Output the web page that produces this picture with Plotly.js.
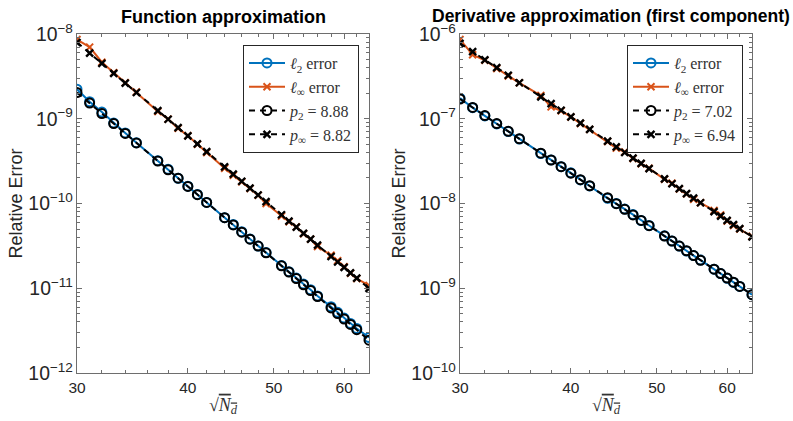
<!DOCTYPE html>
<html>
<head>
<meta charset="utf-8">
<script src="https://cdn.plot.ly/plotly-3.0.1.min.js"></script>
<style>html,body{margin:0;padding:0;background:#fff;}#chart{width:793px;height:421px;}</style>
</head>
<body>
<div id="chart"></div>
<script>
// sqrt(N_d) sample points
const sqrtNd = [30,31,32,33,34,35,37,38,39,40,41,42,44,45,46,47,48,49,51,52,53,54,55,56,58,59,60,61,62,64];

// Function approximation
const funcL2 = [2.23e-9,1.59e-9,1.20e-9,8.9e-10,6.8e-10,5.2e-10,3.2e-10,2.54e-10,1.98e-10,1.6e-10,1.28e-10,1.03e-10,6.8e-11,5.65e-11,4.65e-11,3.82e-11,3.15e-11,2.64e-11,1.86e-11,1.57e-11,1.32e-11,1.12e-11,9.6e-12,8.1e-12,6.05e-12,5.2e-12,4.45e-12,3.85e-12,3.35e-12,2.62e-12];
const funcLinf = [8.6e-9,7.0e-9,4.65e-9,3.5e-9,2.67e-9,2.07e-9,1.22e-9,9.9e-10,7.7e-10,6.3e-10,5.0e-10,3.98e-10,2.6e-10,2.15e-10,1.8e-10,1.5e-10,1.25e-10,1.0e-10,7.1e-11,6.1e-11,5.3e-11,4.4e-11,3.8e-11,3.1e-11,2.45e-11,2.12e-11,1.8e-11,1.5e-11,1.3e-11,1.08e-11];
const funcFitL2 = [2.04e-9,1.53e-9,1.15e-9,8.76e-10,6.72e-10,5.19e-10,3.17e-10,2.50e-10,1.99e-10,1.59e-10,1.27e-10,1.03e-10,6.81e-11,5.58e-11,4.59e-11,3.79e-11,3.15e-11,2.62e-11,1.84e-11,1.55e-11,1.30e-11,1.10e-11,9.38e-12,7.99e-12,5.85e-12,5.03e-12,4.33e-12,3.74e-12,3.24e-12,2.44e-12];
const funcFitLinf = [7.94e-9,5.95e-9,4.50e-9,3.43e-9,2.63e-9,2.04e-9,1.25e-9,9.87e-10,7.85e-10,6.28e-10,5.05e-10,4.09e-10,2.71e-10,2.22e-10,1.83e-10,1.52e-10,1.26e-10,1.05e-10,7.37e-11,6.21e-11,5.25e-11,4.45e-11,3.79e-11,3.23e-11,2.37e-11,2.04e-11,1.76e-11,1.52e-11,1.32e-11,9.95e-12];

// Derivative approximation (first component)
const derivL2 = [1.75e-7,1.35e-7,1.08e-7,8.7e-8,7.05e-8,5.75e-8,3.88e-8,3.27e-8,2.72e-8,2.3e-8,1.9e-8,1.61e-8,1.15e-8,1.0e-8,8.6e-9,7.4e-9,6.3e-9,5.5e-9,4.15e-9,3.6e-9,3.15e-9,2.75e-9,2.43e-9,2.15e-9,1.68e-9,1.49e-9,1.31e-9,1.17e-9,1.05e-9,8.4e-10];
const derivLinf = [8.6e-7,5.7e-7,4.9e-7,3.9e-7,3.2e-7,2.65e-7,1.88e-7,1.38e-7,1.24e-7,1.05e-7,8.8e-8,7.5e-8,5.4e-8,4.5e-8,4.05e-8,3.4e-8,2.95e-8,2.6e-8,1.93e-8,1.74e-8,1.48e-8,1.3e-8,1.12e-8,1.02e-8,8.3e-9,7.3e-9,6.2e-9,5.5e-9,5.0e-9,4.1e-9];
const derivFitL2 = [1.71e-7,1.36e-7,1.09e-7,8.78e-8,7.12e-8,5.81e-8,3.93e-8,3.26e-8,2.72e-8,2.28e-8,1.91e-8,1.62e-8,1.17e-8,9.95e-9,8.53e-9,7.33e-9,6.32e-9,5.47e-9,4.13e-9,3.61e-9,3.15e-9,2.77e-9,2.43e-9,2.14e-9,1.68e-9,1.49e-9,1.32e-9,1.18e-9,1.05e-9,8.39e-10];
const derivFitLinf = [7.76e-7,6.18e-7,4.96e-7,4.01e-7,3.26e-7,2.66e-7,1.81e-7,1.51e-7,1.26e-7,1.05e-7,8.88e-8,7.51e-8,5.44e-8,4.66e-8,4.00e-8,3.44e-8,2.97e-8,2.58e-8,1.95e-8,1.71e-8,1.50e-8,1.31e-8,1.16e-8,1.02e-8,8.0e-9,7.1e-9,6.32e-9,5.64e-9,5.04e-9,4.04e-9];

const titles = ["Function approximation", "Derivative approximation (first component)"];
const names = ["<i>ℓ</i><sub>2</sub> error", "<i>ℓ</i><sub>∞</sub> error"];
const fitLabelsFunc = ["<i>p</i><sub>2</sub> = 8.88", "<i>p</i><sub>∞</sub> = 8.82"];
const fitLabelsDeriv = ["<i>p</i><sub>2</sub> = 7.02", "<i>p</i><sub>∞</sub> = 6.94"];
const xTicks = [30,40,50,60];
const xMinor = [32,34,36,38,42,44,46,48,52,54,56,58,62,64];

const BLUE = '#0072BD', ORANGE = '#D95319';

function series(xa, ya, leg, l2, linf, fl2, flinf, fitLabels) {
  return [
    {x: sqrtNd, y: l2, xaxis: xa, yaxis: ya, legend: leg, name: names[0], mode: 'lines+markers',
     line: {color: BLUE, width: 2}, marker: {symbol: 'circle-open', size: 9, color: BLUE, line: {width: 2}}},
    {x: sqrtNd, y: linf, xaxis: xa, yaxis: ya, legend: leg, name: names[1], mode: 'lines+markers',
     line: {color: ORANGE, width: 2}, marker: {symbol: 'x-thin-open', size: 7, color: ORANGE, line: {width: 2, color: ORANGE}}},
    {x: sqrtNd, y: fl2, xaxis: xa, yaxis: ya, legend: leg, name: fitLabels[0], mode: 'lines+markers',
     line: {color: '#000', width: 2, dash: '6px,5px'}, marker: {symbol: 'circle-open', size: 9, color: '#000', line: {width: 2}}},
    {x: sqrtNd, y: flinf, xaxis: xa, yaxis: ya, legend: leg, name: fitLabels[1], mode: 'lines+markers',
     line: {color: '#000', width: 2, dash: '6px,5px'}, marker: {symbol: 'x-thin-open', size: 7, color: '#000', line: {width: 2.4, color: '#000'}}}
  ];
}

const data = [
  ...series('x', 'y', 'legend', funcL2, funcLinf, funcFitL2, funcFitLinf, fitLabelsFunc),
  ...series('x2', 'y2', 'legend2', derivL2, derivLinf, derivFitL2, derivFitLinf, fitLabelsDeriv)
];

const W = 793, H = 421;
const yDom = [(H - 373) / H, (H - 34) / H];
const AXC = '#6e6e6e', TXT = '#262626';
const tickFont = {family: 'Liberation Sans, Arial, sans-serif', size: 15.5, color: TXT};

function xAxis(dom, anchor) {
  return {
    type: 'log', domain: dom, anchor: anchor, range: [Math.log10(30), Math.log10(64)],
    tickmode: 'array', tickvals: xTicks, ticktext: xTicks.map(String),
    ticks: 'inside', ticklen: 5, tickcolor: AXC, showline: true, linecolor: AXC, linewidth: 1,
    mirror: 'allticks', showgrid: false, zeroline: false, tickfont: tickFont,
    minor: {tickmode: 'array', tickvals: xMinor, ticks: 'inside', ticklen: 3, tickcolor: AXC, showgrid: false},
    title: {text: '√<span style="text-decoration:overline"><i>N</i><sub><i>d</i></sub></span>', standoff: 3,
            font: {family: 'Liberation Serif, DejaVu Serif, serif', size: 18, color: '#333'}}
  };
}
function yAxis(dom, anchor, rng) {
  return {
    type: 'log', domain: dom, anchor: anchor, range: rng, dtick: 1, exponentformat: 'power',
    ticks: 'inside', ticklen: 5, tickcolor: AXC, showline: true, linecolor: AXC, linewidth: 1,
    mirror: 'allticks', showgrid: false, zeroline: false, tickfont: tickFont,
    minor: {ticks: 'inside', ticklen: 3, tickcolor: AXC, showgrid: false},
    title: {text: 'Relative Error', standoff: 1, font: {family: 'Liberation Sans, Arial, sans-serif', size: 18, color: TXT}}
  };
}

const legendStyle = (x) => ({
  x: x, y: (H - 45) / H, xanchor: 'left', yanchor: 'top', xref: 'paper', yref: 'paper',
  bgcolor: '#fff', bordercolor: '#262626', borderwidth: 1,
  font: {family: 'Liberation Serif, DejaVu Serif, serif', size: 16, color: '#333'},
  itemwidth: 36, tracegroupgap: 0
});

const xd1 = [77 / W, 369 / W], xd2 = [460 / W, 752 / W];

const layout = {
  width: W, height: H, margin: {l: 0, r: 0, t: 0, b: 0},
  paper_bgcolor: '#fff', plot_bgcolor: '#fff', showlegend: true,
  xaxis: xAxis(xd1, 'y'), yaxis: yAxis(yDom, 'x', [-12, -8]),
  xaxis2: xAxis(xd2, 'y2'), yaxis2: yAxis(yDom, 'x2', [-10, -6]),
  legend: legendStyle(243 / W),
  legend2: legendStyle(627 / W),
  annotations: [
    {text: '<b>' + titles[0] + '</b>', x: (xd1[0] + xd1[1]) / 2, y: (H - 17) / H, xref: 'paper', yref: 'paper',
     xanchor: 'center', yanchor: 'middle', showarrow: false, font: {family: 'Liberation Sans, Arial, sans-serif', size: 18, color: '#000'}},
    {text: '<b>' + titles[1] + '</b>', x: 792 / W, y: (H - 16) / H, xref: 'paper', yref: 'paper',
     xanchor: 'right', yanchor: 'middle', showarrow: false, font: {family: 'Liberation Sans, Arial, sans-serif', size: 17.5, color: '#000'}}
  ]
};

Plotly.newPlot('chart', data, layout, {staticPlot: true, displayModeBar: false});
</script>
</body>
</html>
